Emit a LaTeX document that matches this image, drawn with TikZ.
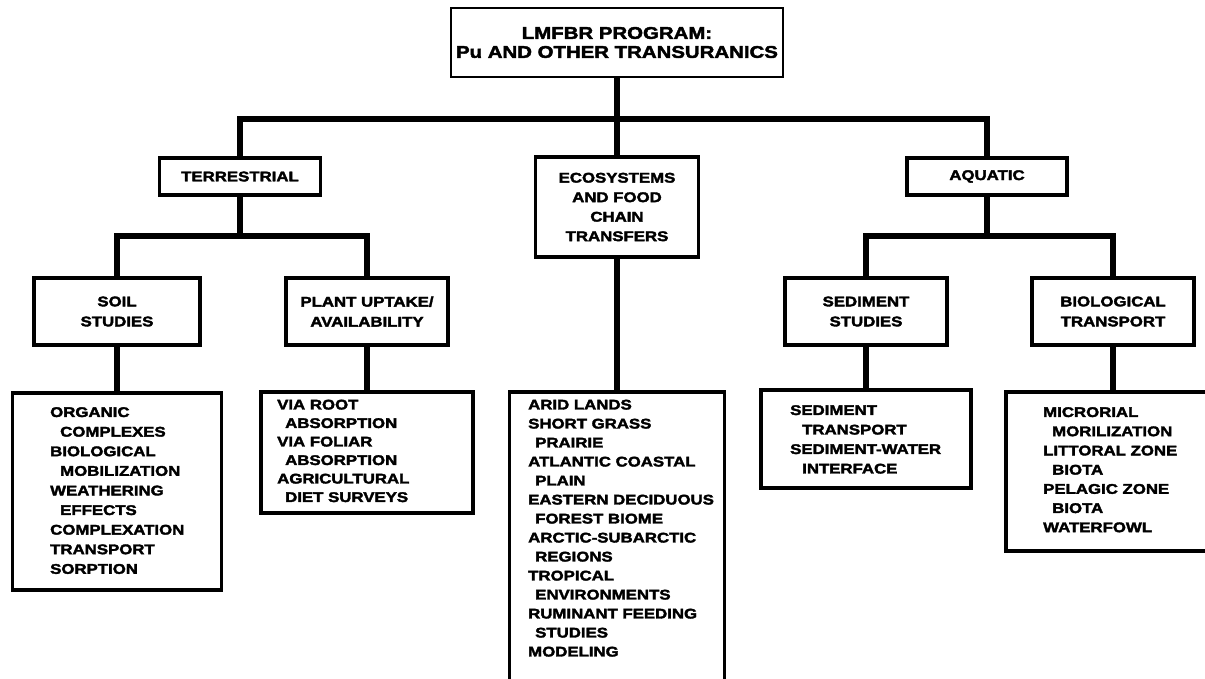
\documentclass[tikz,border=0pt]{standalone}
\usepackage{fontspec}
\newfontfamily\wf[FakeStretch=1.2, BoldFeatures={FakeBold=2.5}]{Liberation Sans}
\tikzset{
  box/.style={draw, line width=3.2pt, inner sep=0pt, align=center,
    font=\wf\bfseries\fontsize{14}{20}\selectfont},
  topbox/.style={box, line width=2.6pt, font=\wf\bfseries\fontsize{17}{19}\selectfont},
  conn/.style={line width=5.5pt},
  listtext/.style={anchor=north west, inner sep=0pt, align=left,
    font=\wf\bfseries\fontsize{14}{19.6}\selectfont}
}
\begin{document}
\begin{tikzpicture}[x=1pt,y=-1pt]
\useasboundingbox (0,0) rectangle (1205,678);
\clip (0,0) rectangle (1205,678);
\fill[white] (0,0) rectangle (1205,678);

% top level
\node[topbox, minimum width=332pt, minimum height=69pt] (top) at (617,42.5)
  {LMFBR PROGRAM:\\Pu AND OTHER TRANSURANICS};

% second level
\node[box, minimum width=161pt, minimum height=37pt] (terr) at (240,176.5) {TERRESTRIAL};
\node[box, minimum width=163pt, minimum height=100pt, font=\wf\bfseries\fontsize{14}{19.5}\selectfont] (eco) at (617,207)
  {ECOSYSTEMS\\AND FOOD\\CHAIN\\TRANSFERS};
\node[box, minimum width=160pt, minimum height=37pt] (aqu) at (987,176.5) {AQUATIC};

% third level
\node[box, minimum width=166pt, minimum height=67pt] (soil) at (117,311.5) {SOIL\\STUDIES};
\node[box, minimum width=162pt, minimum height=67pt] (plant) at (367,311.5) {PLANT UPTAKE/\\AVAILABILITY};
\node[box, minimum width=162pt, minimum height=67pt] (sed) at (866,311.5) {SEDIMENT\\STUDIES};
\node[box, minimum width=162pt, minimum height=67pt] (bio) at (1113,311.5) {BIOLOGICAL\\TRANSPORT};

% list boxes
\node[box, minimum width=209pt, minimum height=197pt] (soillist) at (117,491.5) {};
\node[box, minimum width=212pt, minimum height=121pt] (plantlist) at (367,452.5) {};
\node[box, minimum width=215pt, minimum height=320pt] (ecolist) at (617,552) {};
\node[box, minimum width=210pt, minimum height=98pt] (sedlist) at (866,439) {};
\node[box, minimum width=214pt, minimum height=159pt] (biolist) at (1113,471.5) {};

% list texts
\node[listtext] (soiltxt) at (50,407) {ORGANIC\\\hspace*{10pt}COMPLEXES\\BIOLOGICAL\\\hspace*{10pt}MOBILIZATION\\WEATHERING\\\hspace*{10pt}EFFECTS\\COMPLEXATION\\TRANSPORT\\SORPTION};
\node[listtext, font=\wf\bfseries\fontsize{14}{18.5}\selectfont] (planttxt) at (277,399.5) {VIA ROOT\\\hspace*{8pt}ABSORPTION\\VIA FOLIAR\\\hspace*{8pt}ABSORPTION\\AGRICULTURAL\\\hspace*{8pt}DIET SURVEYS};
\node[listtext, font=\wf\bfseries\fontsize{14}{19}\selectfont] (ecotxt) at (528,399.5) {ARID LANDS\\SHORT GRASS\\\hspace*{7pt}PRAIRIE\\ATLANTIC COASTAL\\\hspace*{7pt}PLAIN\\EASTERN DECIDUOUS\\\hspace*{7pt}FOREST BIOME\\ARCTIC-SUBARCTIC\\\hspace*{7pt}REGIONS\\TROPICAL\\\hspace*{7pt}ENVIRONMENTS\\RUMINANT FEEDING\\\hspace*{7pt}STUDIES\\MODELING};
\node[listtext, font=\wf\bfseries\fontsize{14}{19.5}\selectfont] (sedtxt) at (790,405) {SEDIMENT\\\hspace*{12pt}TRANSPORT\\SEDIMENT-WATER\\\hspace*{12pt}INTERFACE};
\node[listtext, font=\wf\bfseries\fontsize{14}{19.2}\selectfont] (biotxt) at (1043,407) {MICRORIAL\\\hspace*{9pt}MORILIZATION\\LITTORAL ZONE\\\hspace*{9pt}BIOTA\\PELAGIC ZONE\\\hspace*{9pt}BIOTA\\WATERFOWL};

% connectors
\coordinate (mb) at (617,119);
\coordinate (tb) at (240,236);
\coordinate (ab) at (987,236);
\draw[conn] (top.south) -- (eco.north);
\draw[conn] (terr.north) |- (mb) -| (aqu.north);
\draw[conn] (terr.south) -- (tb);
\draw[conn] (soil.north) |- (tb) -| (plant.north);
\draw[conn] (aqu.south) -- (ab);
\draw[conn] (sed.north) |- (ab) -| (bio.north);
\draw[conn] (soil.south) -- (soillist.north);
\draw[conn] (plant.south) -- (plantlist.north);
\draw[conn] (eco.south) -- (ecolist.north);
\draw[conn] (sed.south) -- (sedlist.north);
\draw[conn] (bio.south) -- (biolist.north);
\end{tikzpicture}
\end{document}
